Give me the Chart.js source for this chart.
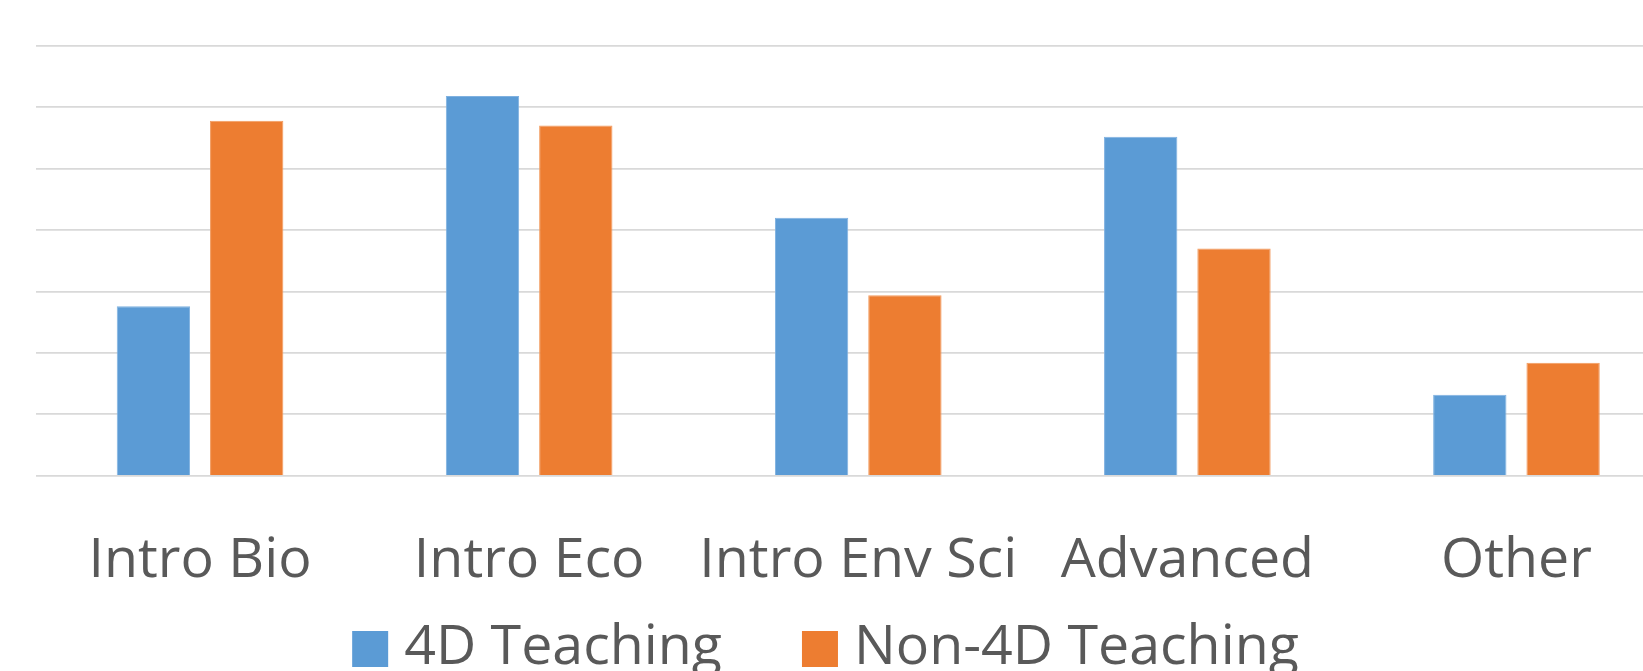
<!DOCTYPE html>
<html>
<head>
<meta charset="utf-8">
<script src="https://cdn.jsdelivr.net/npm/chart.js@4/dist/chart.umd.min.js"></script>
<style>
  html, body { margin: 0; padding: 0; background: #ffffff; overflow: hidden; }
  #wrap { position: relative; width: 1643px; height: 671px; overflow: hidden; }
  #box { position: absolute; left: -30px; top: 0; width: 1711px; height: 700px; }
</style>
</head>
<body>
<div id="wrap"><div id="box"><canvas id="chart"></canvas></div></div>
<script>
// Course categories on the x axis
const categories = ['Intro Bio', 'Intro Eco', 'Intro Env Sci', 'Advanced', 'Other'];

// Share of responses (%) per course type
const teaching4D = [13.8, 30.9, 21.0, 27.6, 6.6];
const teachingNon4D = [28.9, 28.5, 14.7, 18.5, 9.2];

// Series names
const seriesNames = ['4D Teaching', 'Non-4D Teaching'];

// Value axis range (percent)
const yMin = 0;
const yMax = 35;
const yStep = 5;

const FONT = "'Open Sans', 'DejaVu Sans', sans-serif";
const TEXT_COLOR = '#595959';

// Legend drawn under the axis labels: square swatch, then the series name
const bottomLegend = {
  id: 'bottomLegend',
  afterDraw(chart) {
    const ctx = chart.ctx;
    const size = 55.5, box = 36, gap = 16, spacing = 80;
    ctx.save();
    ctx.font = size + "px " + FONT;
    const items = chart.data.datasets.map(ds => ({
      text: ds.label,
      color: ds.backgroundColor,
      w: ctx.measureText(ds.label).width
    }));
    const total = items.reduce((s, it) => s + box + gap + it.w, 0) + spacing * (items.length - 1);
    let x = chart.width / 2 - total / 2;
    const cy = chart.height - 51;
    ctx.textBaseline = 'alphabetic';
    ctx.textAlign = 'left';
    items.forEach(it => {
      ctx.fillStyle = it.color;
      ctx.fillRect(x, cy - box / 2, box, box);
      ctx.fillStyle = TEXT_COLOR;
      ctx.fillText(it.text, x + box + gap, cy + 15);
      x += box + gap + it.w + spacing;
    });
    ctx.restore();
  }
};

new Chart(document.getElementById('chart'), {
  type: 'bar',
  data: {
    labels: categories,
    datasets: [
      {
        label: seriesNames[0],
        data: teaching4D,
        backgroundColor: '#5B9BD5',
        borderColor: '#7FB1E0',
        borderWidth: 1
      },
      {
        label: seriesNames[1],
        data: teachingNon4D,
        backgroundColor: '#ED7D31',
        borderColor: '#F29A5E',
        borderWidth: 1
      }
    ]
  },
  options: {
    responsive: true,
    maintainAspectRatio: false,
    animation: false,
    devicePixelRatio: 1,
    categoryPercentage: 0.567,
    barPercentage: 0.786,
    layout: { padding: { top: 45.7, right: 0, bottom: 53.6, left: 0 } },
    scales: {
      x: {
        grid: { display: false, drawTicks: false },
        border: { display: false },
        ticks: {
          color: TEXT_COLOR,
          font: { family: FONT, size: 55.5 },
          padding: 52,
          maxRotation: 0,
          autoSkip: false
        }
      },
      y: {
        min: yMin,
        max: yMax,
        ticks: { display: false, stepSize: yStep },
        grid: { color: '#D9D9D9', lineWidth: 1.8, drawTicks: false },
        border: { display: false },
        afterFit: (scale) => { scale.width = 65.5; }
      }
    },
    plugins: {
      title: { display: false },
      tooltip: { enabled: false },
      legend: { display: false }
    }
  },
  plugins: [bottomLegend]
});
</script>
</body>
</html>
